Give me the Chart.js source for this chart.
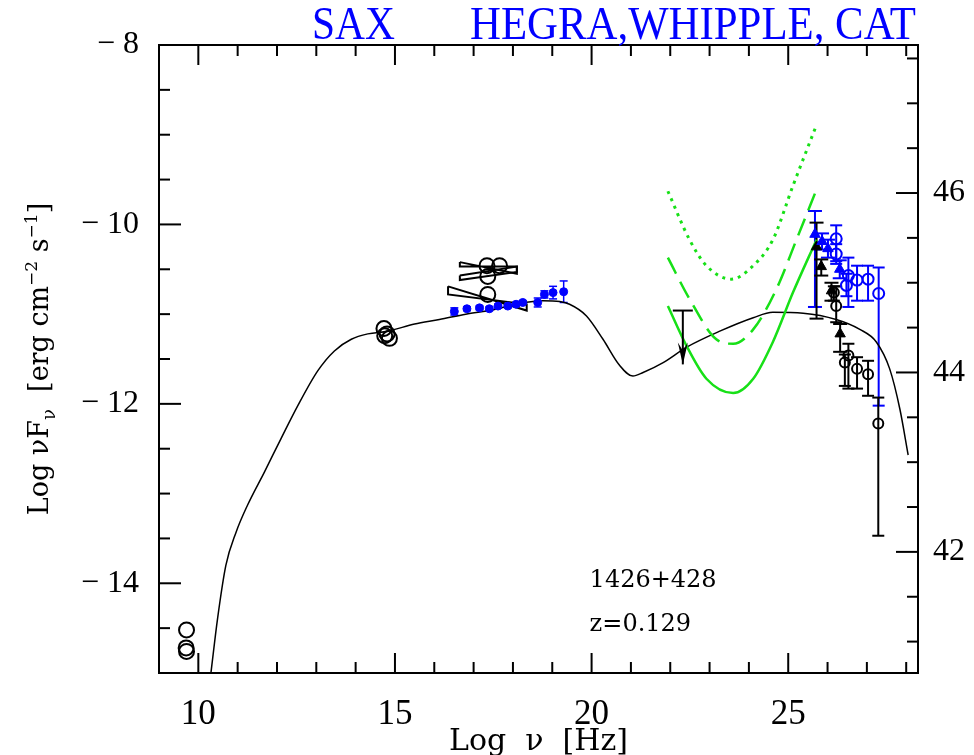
<!DOCTYPE html>
<html lang="en">
<head>
<meta charset="UTF-8">
<script src="https://cdn.jsdelivr.net/npm/chart.js@4.4.0/dist/chart.umd.min.js"></script>
<style>
  body { margin: 0; background: #fff; }
</style>
</head>
<body>
<canvas id="sed" width="974" height="755"></canvas>
<script>
// ---- data ----
const modelX = [10.32, 10.49, 10.70, 10.96, 11.25, 11.68, 12.10, 12.53, 13.04, 13.46, 13.89, 14.31, 14.82, 15.50, 16.13, 16.80, 17.50, 18.17, 18.76, 19.19, 19.44, 19.87, 20.29, 20.71, 21.05, 21.31, 21.82, 22.41, 23.26, 24.11, 24.61, 25.38, 26.22, 26.82, 27.24, 27.58, 27.84, 28.05];
const modelY = [-15.0, -14.39, -13.80, -13.43, -13.13, -12.76, -12.39, -12.02, -11.63, -11.41, -11.28, -11.22, -11.19, -11.11, -11.06, -11.00, -10.95, -10.88, -10.85, -10.86, -10.89, -11.02, -11.28, -11.57, -11.69, -11.65, -11.54, -11.37, -11.19, -11.04, -10.98, -10.99, -11.06, -11.17, -11.31, -11.61, -12.06, -12.57];

const dotX = [21.94, 22.49, 22.92, 23.55, 24.11, 24.61, 25.12, 25.72];
const dotY = [-9.63, -10.17, -10.46, -10.61, -10.46, -10.17, -9.57, -8.89];
const dashX = [21.94, 22.49, 23.17, 23.60, 24.11, 24.70, 25.21, 25.72];
const dashY = [-10.37, -10.83, -11.28, -11.33, -11.17, -10.72, -10.17, -9.61];
const greenX = [21.94, 22.41, 22.92, 23.60, 24.11, 24.61, 25.12, 25.72];
const greenY = [-10.91, -11.35, -11.72, -11.88, -11.72, -11.31, -10.76, -10.17];

const radioX = [9.70, 9.69, 9.70];
const radioY = [-14.52, -14.72, -14.76];
const optX = [14.72, 14.74, 14.86, 14.80];
const optY = [-11.16, -11.24, -11.27, -11.22];
const xcircX = [17.34, 17.66, 17.36, 17.36];
const xcircY = [-10.46, -10.46, -10.58, -10.78];

// bow-ties: [x, y] corners
const bowA = [[16.65, -10.42], [18.10, -10.55], [18.10, -10.47], [16.65, -10.47], [16.65, -10.42]];
const bowB = [[16.65, -10.57], [18.10, -10.47], [18.10, -10.53], [16.65, -10.62], [16.65, -10.57]];
const bowC = [[16.35, -10.69], [18.35, -10.96], [18.35, -10.89], [16.35, -10.78], [16.35, -10.69]];

const saxX = [16.51, 16.83, 17.15, 17.40, 17.62, 17.87, 18.08, 18.25, 18.63, 18.80, 19.02, 19.29];
const saxY = [-10.97, -10.94, -10.93, -10.94, -10.91, -10.91, -10.89, -10.87, -10.87, -10.78, -10.76, -10.75];
const saxErr = [0.04, 0.02, 0.02, 0.02, 0.02, 0.02, 0.02, 0.02, 0.05, 0.04, 0.07, 0.12];

const ulX = [22.32];
const ulTop = [-10.96];
const ulTip = [-11.56];

const blueTriX = [25.68, 25.86, 26.01, 26.31];
const blueTriY = [-10.11, -10.19, -10.27, -10.50];
const blueTriHi = [-9.85, -10.10, -10.17, -10.40];
const blueTriLo = [-10.92, -10.28, -10.37, -10.60];

const blueCircX = [26.22, 26.22, 26.53, 26.48, 26.75, 27.03, 27.30];
const blueCircY = [-10.16, -10.33, -10.57, -10.68, -10.62, -10.61, -10.77];
const blueCircHi = [-10.01, -10.22, -10.37, -10.55, -10.46, -10.46, -10.48];
const blueCircLo = [-10.41, -10.44, -10.92, -10.80, -10.85, -10.85, -12.02];

const blackTriX = [25.72, 25.84, 26.10, 26.32];
const blackTriY = [-10.25, -10.47, -10.74, -11.22];
const blackTriHi = [-9.98, -10.39, -10.65, -11.11];
const blackTriLo = [-11.05, -10.57, -10.85, -11.42];

const blackCircX = [26.16, 26.22, 26.53, 26.44, 26.75, 27.03, 27.29];
const blackCircY = [-10.76, -10.91, -11.46, -11.54, -11.61, -11.67, -12.22];
const blackCircHi = [-10.69, -10.69, -11.33, -11.45, -11.48, -11.52, -11.93];
const blackCircLo = [-10.85, -11.09, -11.83, -11.80, -11.83, -11.91, -13.47];

const xTickLabels = [10, 15, 20, 25];
const yTickLabels = [-14, -12, -10, -8];
const y2TickLabels = [42, 44, 46];
const y2Offset = 55.65; // right axis = left axis + offset

// ---- helpers ----
const pts = (xs, ys) => xs.map((x, i) => ({ x: x, y: ys[i] }));
const corners = arr => arr.map(p => ({ x: p[0], y: p[1] }));
const BLUE = '#0000ff';
const GREEN = '#17e017';

function line(ctx, x1, y1, x2, y2) {
    ctx.beginPath();
    ctx.moveTo(x1, y1);
    ctx.lineTo(x2, y2);
    ctx.stroke();
}

// error bars with caps, from errHi / errLo arrays on the dataset
const errorBars = {
    id: 'errorBars',
    beforeDatasetsDraw(chart) {
        const { ctx, scales } = chart;
        ctx.save();
        chart.data.datasets.forEach(ds => {
            if (!ds.errHi) return;
            ctx.strokeStyle = ds.errColor || ds.borderColor;
            ctx.lineWidth = ds.errWidth || 2;
            const cap = ds.capW || 6;
            ds.data.forEach((p, i) => {
                const px = scales.x.getPixelForValue(p.x);
                const hi = scales.y.getPixelForValue(ds.errHi[i]);
                const lo = scales.y.getPixelForValue(ds.errLo[i]);
                line(ctx, px, hi, px, lo);
                line(ctx, px - cap, hi, px + cap, hi);
                line(ctx, px - cap, lo, px + cap, lo);
            });
        });
        ctx.restore();
    }
};

// upper limit arrow
const upperLimit = {
    id: 'upperLimit',
    afterDatasetsDraw(chart) {
        const { ctx, scales } = chart;
        ctx.save();
        ctx.strokeStyle = '#000';
        ctx.fillStyle = '#000';
        ctx.lineWidth = 2;
        ulX.forEach((x, i) => {
            const px = scales.x.getPixelForValue(x);
            const top = scales.y.getPixelForValue(ulTop[i]);
            const tip = scales.y.getPixelForValue(ulTip[i]);
            line(ctx, px - 10, top, px + 10, top);
            line(ctx, px, top, px, tip);
            ctx.beginPath();
            ctx.moveTo(px, tip);
            ctx.lineTo(px - 5, tip - 22);
            ctx.lineTo(px, tip - 14);
            ctx.lineTo(px + 5, tip - 22);
            ctx.closePath();
            ctx.fill();
        });
        ctx.restore();
    }
};

// frame, inward ticks, header and rich y title
const frame = {
    id: 'frame',
    afterDraw(chart) {
        const { ctx, chartArea: a, scales } = chart;
        ctx.save();
        ctx.strokeStyle = '#000';
        ctx.lineWidth = 2;
        ctx.strokeRect(a.left, a.top, a.width, a.height);
        for (let v = 9; v <= 28; v++) {
            const px = scales.x.getPixelForValue(v);
            const len = v % 5 === 0 ? 20 : 11;
            line(ctx, px, a.bottom, px, a.bottom - len);
            line(ctx, px, a.top, px, a.top + len);
        }
        for (let v = -15; v <= -8; v += 0.5) {
            const py = scales.y.getPixelForValue(v);
            const len = v % 2 === 0 ? 22 : 11;
            line(ctx, a.left, py, a.left + len, py);
        }
        for (let v = 41; v <= 47.5; v += 0.5) {
            const py = scales.y2.getPixelForValue(v);
            const len = v % 2 === 0 ? 22 : 11;
            line(ctx, a.right, py, a.right - len, py);
        }

        // header
        ctx.fillStyle = BLUE;
        ctx.textBaseline = 'alphabetic';
        ctx.font = '47px "Liberation Serif"';
        [['SAX', 312, 83], ['HEGRA,WHIPPLE, CAT', 470, 446]].forEach(h => {
            const w = ctx.measureText(h[0]).width;
            ctx.save();
            ctx.translate(h[1], 39);
            ctx.scale(h[2] / w, 1);
            ctx.fillText(h[0], 0, 0);
            ctx.restore();
        });

        // object name and redshift
        ctx.fillStyle = '#000';
        ctx.font = '24px "DejaVu Serif"';
        ctx.textAlign = 'left';
        ctx.fillText('1426+428', scales.x.getPixelForValue(19.95), scales.y.getPixelForValue(-14.04));
        ctx.fillText('z=0.129', scales.x.getPixelForValue(19.95), scales.y.getPixelForValue(-14.53));

        // y title with sub/superscripts
        const segs = [
            { t: 'Log \u03bdF', s: 27, dy: 0 },
            { t: '\u03bd', s: 18, dy: 7 },
            { t: '  [erg cm', s: 27, dy: 0 },
            { t: '\u22122', s: 17, dy: -11 },
            { t: ' s', s: 27, dy: 0 },
            { t: '\u22121', s: 17, dy: -11 },
            { t: ']', s: 27, dy: 0 }
        ];
        let total = 0;
        segs.forEach(sg => {
            ctx.font = sg.s + 'px "DejaVu Serif"';
            sg.w = ctx.measureText(sg.t).width;
            total += sg.w;
        });
        ctx.translate(48, (a.top + a.bottom) / 2);
        ctx.rotate(-Math.PI / 2);
        let cx = -total / 2;
        segs.forEach(sg => {
            ctx.font = sg.s + 'px "DejaVu Serif"';
            ctx.fillText(sg.t, cx, sg.dy);
            cx += sg.w;
        });
        ctx.restore();
    }
};

const circleSet = (xs, ys, color, r) => ({
    data: pts(xs, ys), showLine: false, pointStyle: 'circle', pointRadius: r,
    pointBorderWidth: 2, borderColor: color, pointBackgroundColor: 'rgba(0,0,0,0)', backgroundColor: 'rgba(0,0,0,0)'
});

new Chart(document.getElementById('sed'), {
    type: 'scatter',
    data: {
        datasets: [
            Object.assign(circleSet(blueCircX, blueCircY, BLUE, 5.5),
                { errHi: blueCircHi, errLo: blueCircLo, capW: 6 }),
            { data: pts(blueTriX, blueTriY), showLine: false, pointStyle: 'triangle', pointRadius: 6,
              borderColor: BLUE, backgroundColor: BLUE, errHi: blueTriHi, errLo: blueTriLo, capW: 7 },
            Object.assign(circleSet(blackCircX, blackCircY, '#000', 5),
                { errHi: blackCircHi, errLo: blackCircLo, capW: 6 }),
            { data: pts(blackTriX, blackTriY), showLine: false, pointStyle: 'triangle', pointRadius: 6,
              borderColor: '#000', backgroundColor: '#000', errHi: blackTriHi, errLo: blackTriLo, capW: 7 },
            { data: pts(saxX, saxY), showLine: false, pointStyle: 'circle', pointRadius: 4,
              borderColor: BLUE, backgroundColor: BLUE,
              errHi: saxY.map((y, i) => y + saxErr[i]), errLo: saxY.map((y, i) => y - saxErr[i]), capW: 4, errWidth: 1.5 },
            circleSet(radioX, radioY, '#000', 7.5),
            circleSet(optX, optY, '#000', 7.5),
            circleSet(xcircX, xcircY, '#000', 7.5),
            { data: corners(bowA), showLine: true, pointRadius: 0, borderColor: '#000', borderWidth: 2 },
            { data: corners(bowB), showLine: true, pointRadius: 0, borderColor: '#000', borderWidth: 2 },
            { data: corners(bowC), showLine: true, pointRadius: 0, borderColor: '#000', borderWidth: 2 },
            { data: pts(dotX, dotY), showLine: true, pointRadius: 0, borderColor: GREEN, borderWidth: 3,
              borderDash: [3, 5], cubicInterpolationMode: 'monotone' },
            { data: pts(dashX, dashY), showLine: true, pointRadius: 0, borderColor: GREEN, borderWidth: 2.5,
              borderDash: [18, 9], cubicInterpolationMode: 'monotone' },
            { data: pts(greenX, greenY), showLine: true, pointRadius: 0, borderColor: GREEN, borderWidth: 2.5,
              cubicInterpolationMode: 'monotone' },
            { data: pts(modelX, modelY), showLine: true, pointRadius: 0, borderColor: '#000', borderWidth: 1.5,
              cubicInterpolationMode: 'monotone' }
        ]
    },
    options: {
        responsive: false,
        animation: false,
        layout: { padding: { top: 45, left: 0, right: 0, bottom: 0 } },
        plugins: { legend: { display: false }, tooltip: { enabled: false } },
        scales: {
            x: {
                type: 'linear', min: 9, max: 28.3,
                afterBuildTicks: s => { s.ticks = xTickLabels.map(v => ({ value: v })); },
                afterFit: s => { s.height = 82; },
                grid: { display: false, drawTicks: false },
                border: { display: false },
                ticks: { color: '#000', padding: 21, font: { family: 'Liberation Serif', size: 35 } },
                title: { display: true, text: 'Log  \u03bd  [Hz]', color: '#000',
                         font: { family: 'DejaVu Serif', size: 30, lineHeight: 1.0 }, padding: { top: 0, bottom: -2 } }
            },
            y: {
                type: 'linear', position: 'left', min: -15, max: -8,
                afterBuildTicks: s => { s.ticks = yTickLabels.map(v => ({ value: v })); },
                afterFit: s => { s.width = 159; },
                grid: { display: false, drawTicks: false },
                border: { display: false },
                ticks: { color: '#000', padding: 20, font: { family: 'Liberation Serif', size: 32 },
                         callback: v => (v < 0 ? '\u2212 ' : '') + Math.abs(v) }
            },
            y2: {
                type: 'linear', position: 'right', min: -15 + y2Offset, max: -8 + y2Offset,
                afterBuildTicks: s => { s.ticks = y2TickLabels.map(v => ({ value: v })); },
                afterFit: s => { s.width = 56; },
                grid: { display: false, drawTicks: false },
                border: { display: false },
                ticks: { color: '#000', padding: 15, font: { family: 'Liberation Serif', size: 32 } }
            }
        }
    },
    plugins: [errorBars, upperLimit, frame]
});
</script>
</body>
</html>
